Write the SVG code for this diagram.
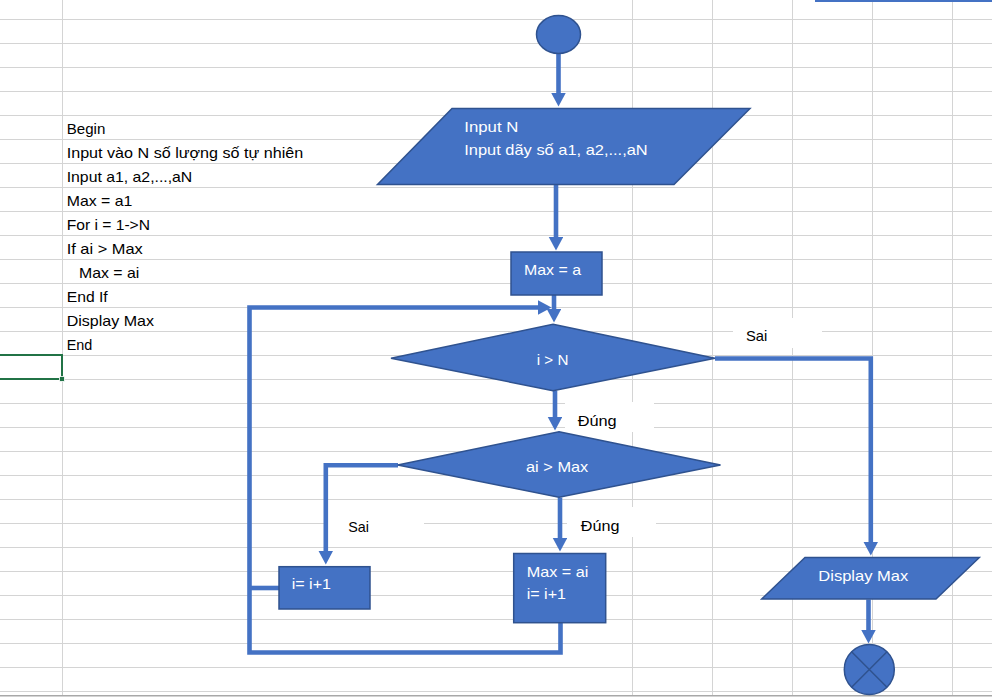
<svg xmlns="http://www.w3.org/2000/svg" width="992" height="697" viewBox="0 0 992 697">
  <style>
    .grid { stroke: #D4D4D4; stroke-width: 1; fill: none; }
    .shape { fill: #4472C4; stroke: #2F528F; stroke-width: 1.5; }
    .conn { fill: none; stroke: #4472C4; stroke-width: 4.6; stroke-linejoin: miter; }
    .cell { font-family: "Liberation Sans", Arial, sans-serif; font-size: 15px; fill: #000; }
    .inner { font-family: "Liberation Sans", Arial, sans-serif; font-size: 15px; fill: #FFFFFF; }
    .label { font-family: "Liberation Sans", Arial, sans-serif; font-size: 15px; fill: #000; }
  </style>
  <defs>
    <marker id="arrow" markerUnits="userSpaceOnUse" markerWidth="15" markerHeight="15" refX="2" refY="7.25" orient="auto">
      <path d="M0,0 L13.5,7.25 L0,14.5 Z" fill="#4472C4"/>
    </marker>
  </defs>

  <!-- sheet background and cell grid -->
  <rect x="0" y="0" width="992" height="697" fill="#FFFFFF"/>
  <g id="sheet-grid" class="grid">
    <path d="M0,19.5H992 M0,43.5H992 M0,67.5H992 M0,91.5H992 M0,115.5H992 M0,139.5H992 M0,163.5H992 M0,187.5H992 M0,211.5H992 M0,235.5H992 M0,259.5H992 M0,283.5H992 M0,307.5H992 M0,331.5H992 M0,355.5H992 M0,379.5H992 M0,403.5H992 M0,427.5H992 M0,451.5H992 M0,475.5H992 M0,499.5H992 M0,523.5H992 M0,547.5H992 M0,571.5H992 M0,595.5H992 M0,619.5H992 M0,643.5H992 M0,667.5H992 M0,691.5H992"/>
    <path d="M62.5,0V695 M632.5,0V695 M712.5,0V695 M792.5,0V695 M872.5,0V695 M952.5,0V695"/>
  </g>
  <line x1="0" y1="695.8" x2="992" y2="695.8" stroke="#A8A8A8" stroke-width="1.6"/>
  <rect x="815" y="0" width="177" height="2" fill="#4472C4"/>

  <!-- active cell -->
  <g id="active-cell">
    <rect x="-3" y="355" width="65" height="24" fill="none" stroke="#217346" stroke-width="2"/>
    <rect x="59.5" y="376.5" width="5" height="5" fill="#217346" stroke="#FFFFFF" stroke-width="0.8"/>
  </g>

  <!-- pseudocode in column B -->
  <g id="pseudocode" class="cell">
    <text x="66.7" y="133.5" textLength="38.6" lengthAdjust="spacingAndGlyphs">Begin</text>
    <text x="66.7" y="157.5" textLength="236.6" lengthAdjust="spacingAndGlyphs">Input vào N số lượng số tự nhiên</text>
    <text x="66.7" y="181.5" textLength="125.6" lengthAdjust="spacingAndGlyphs">Input a1, a2,...,aN</text>
    <text x="66.7" y="205.5" textLength="65.6" lengthAdjust="spacingAndGlyphs">Max = a1</text>
    <text x="66.7" y="229.5" textLength="83.3" lengthAdjust="spacingAndGlyphs">For i = 1-&gt;N</text>
    <text x="66.7" y="253.5" textLength="76" lengthAdjust="spacingAndGlyphs">If ai &gt; Max</text>
    <text x="79" y="277.5" textLength="60.3" lengthAdjust="spacingAndGlyphs">Max = ai</text>
    <text x="66.7" y="301.5" textLength="41" lengthAdjust="spacingAndGlyphs">End If</text>
    <text x="66.7" y="325.5" textLength="87.3" lengthAdjust="spacingAndGlyphs">Display Max</text>
    <text x="66.7" y="349.5" textLength="25.6" lengthAdjust="spacingAndGlyphs">End</text>
  </g>

  <!-- branch labels (text boxes with white fill) -->
  <g id="label-sai-1">
    <rect x="733" y="318" width="89" height="30" fill="#FFFFFF"/>
    <text class="label" x="746" y="340.7" textLength="21.3" lengthAdjust="spacingAndGlyphs">Sai</text>
  </g>
  <g id="label-dung-1">
    <rect x="565" y="402" width="89" height="30" fill="#FFFFFF"/>
    <text class="label" x="577.7" y="425.7" textLength="39" lengthAdjust="spacingAndGlyphs">Đúng</text>
  </g>
  <g id="label-sai-2">
    <rect x="326" y="509" width="98" height="30" fill="#FFFFFF"/>
    <text class="label" x="348.3" y="531.7" textLength="20.7" lengthAdjust="spacingAndGlyphs">Sai</text>
  </g>
  <g id="label-dung-2">
    <rect x="567" y="507" width="89" height="30" fill="#FFFFFF"/>
    <text class="label" x="580.7" y="530.7" textLength="38.7" lengthAdjust="spacingAndGlyphs">Đúng</text>
  </g>

  <!-- connectors -->
  <g id="connectors" class="conn">
    <path d="M558.5,53.5 V95" marker-end="url(#arrow)"/>
    <path d="M556,184.5 V239" marker-end="url(#arrow)"/>
    <path d="M554,295 V311" marker-end="url(#arrow)"/>
    <path d="M560.5,623 V652.5 H249.5 V307.5 H540" marker-end="url(#arrow)"/>
    <path d="M279,588 H249.5"/>
    <path d="M715,358.5 H870.8 V544" marker-end="url(#arrow)"/>
    <path d="M555,390.5 V419" marker-end="url(#arrow)"/>
    <path d="M398,465.2 H325.8 V553" marker-end="url(#arrow)"/>
    <path d="M560,497.5 V540" marker-end="url(#arrow)"/>
    <path d="M868.5,599.5 V632" marker-end="url(#arrow)"/>
  </g>

  <!-- start terminator -->
  <g id="start">
    <ellipse class="shape" cx="558.5" cy="34.5" rx="22" ry="19"/>
  </g>

  <!-- input N and the sequence -->
  <g id="input">
    <polygon class="shape" points="452,108.5 750,108.5 674,184.5 377.5,184.5"/>
    <text class="inner" x="464.3" y="131.7" textLength="54" lengthAdjust="spacingAndGlyphs">Input N</text>
    <text class="inner" x="464.3" y="155.3" textLength="183.4" lengthAdjust="spacingAndGlyphs">Input dãy số a1, a2,...,aN</text>
  </g>

  <!-- initialise Max -->
  <g id="init-max">
    <rect class="shape" x="511" y="252" width="91" height="43"/>
    <text class="inner" x="524" y="275" textLength="57" lengthAdjust="spacingAndGlyphs">Max = a</text>
  </g>

  <!-- loop condition -->
  <g id="cond-i-n">
    <polygon class="shape" points="553,324.3 715,358.3 553,390.7 391,358.3"/>
    <text class="inner" x="536.7" y="365" textLength="31.7" lengthAdjust="spacingAndGlyphs">i &gt; N</text>
  </g>

  <!-- comparison -->
  <g id="cond-ai-max">
    <polygon class="shape" points="559,431.7 720.5,465 559,497.3 397.7,465"/>
    <text class="inner" x="526" y="471.7" textLength="62.3" lengthAdjust="spacingAndGlyphs">ai &gt; Max</text>
  </g>

  <!-- increment only -->
  <g id="step-i">
    <rect class="shape" x="279" y="566.7" width="91" height="42.3"/>
    <text class="inner" x="291.7" y="589" textLength="39.3" lengthAdjust="spacingAndGlyphs">i= i+1</text>
  </g>

  <!-- update Max and increment -->
  <g id="update-max">
    <rect class="shape" x="513.7" y="553.5" width="92" height="69.2"/>
    <text class="inner" x="526.7" y="576.7" textLength="61.6" lengthAdjust="spacingAndGlyphs">Max = ai</text>
    <text class="inner" x="526.7" y="599.3" textLength="39.3" lengthAdjust="spacingAndGlyphs">i= i+1</text>
  </g>

  <!-- output -->
  <g id="display">
    <polygon class="shape" points="805,557.5 979.3,557.5 936,599 761.7,599"/>
    <text class="inner" x="818.3" y="581" textLength="90" lengthAdjust="spacingAndGlyphs">Display Max</text>
  </g>

  <!-- end terminator -->
  <g id="end">
    <circle class="shape" cx="869.3" cy="669.5" r="25"/>
    <path d="M851.6,651.8 L887,687.2 M887,651.8 L851.6,687.2" stroke="#2F528F" stroke-width="1.5" fill="none"/>
  </g>
</svg>
